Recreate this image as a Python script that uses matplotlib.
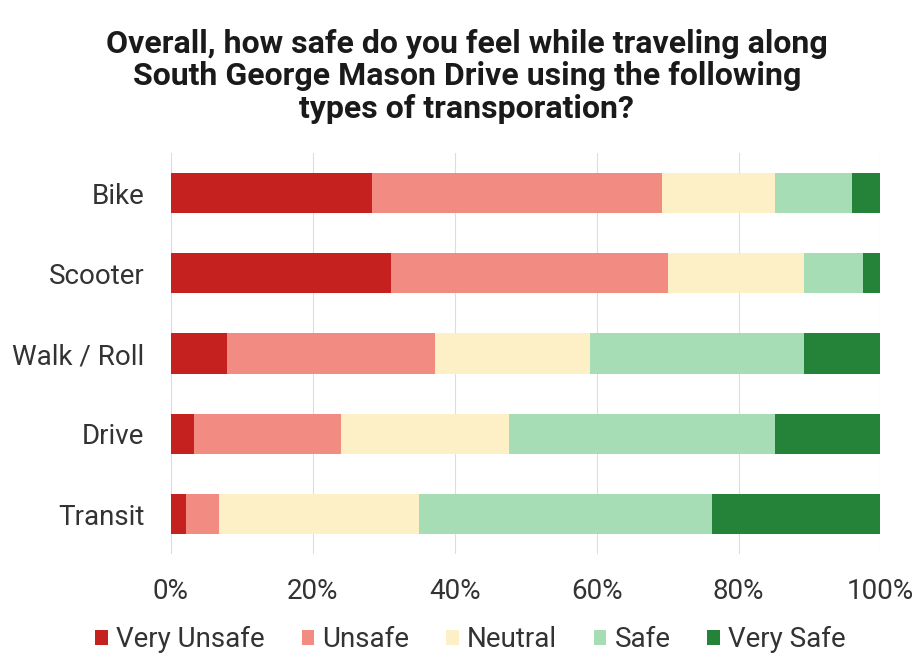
import matplotlib
matplotlib.use("Agg")
import matplotlib.pyplot as plt
import numpy as np

categories = ["Bike", "Scooter", "Walk / Roll", "Drive", "Transit"]
series_names = ["Very Unsafe", "Unsafe", "Neutral", "Safe", "Very Safe"]
very_unsafe = [28.4, 31.0, 7.9, 3.2, 2.1]
unsafe = [40.8, 39.1, 29.3, 20.8, 4.7]
neutral = [16.0, 19.2, 21.8, 23.7, 28.2]
safe = [10.8, 8.3, 30.2, 37.5, 41.3]
very_safe = [4.0, 2.4, 10.8, 14.8, 23.7]
xtick_values = [0, 20, 40, 60, 80, 100]
xtick_labels = ["0%", "20%", "40%", "60%", "80%", "100%"]
title = "Overall, how safe do you feel while traveling along\nSouth George Mason Drive using the following\ntypes of transporation?"

colors = ["#C5221F", "#F28B82", "#FDEFC6", "#A6DDB4", "#248339"]

plt.rcParams['font.family'] = ['Roboto', 'DejaVu Sans']

fig = plt.figure(figsize=(9.19, 6.59), dpi=100)
ax = fig.add_axes([0.186, 0.159, 0.772, 0.609])

data = [very_unsafe, unsafe, neutral, safe, very_safe]
y = np.arange(len(categories))
left = np.zeros(len(categories))
for name, vals, c in zip(series_names, data, colors):
    vals = np.array(vals)
    ax.barh(y, vals, left=left, height=0.5, color=c, label=name, zorder=3)
    left += vals

ax.set_xlim(0, 100)
ax.set_ylim(len(categories) - 0.5, -0.5)
ax.set_yticks(y)
ax.set_yticklabels(categories, fontsize=20, color="#333333")
ax.set_xticks(xtick_values)
ax.set_xticklabels(xtick_labels, fontsize=20, color="#333333")
ax.tick_params(axis='both', length=0)
ax.tick_params(axis='y', pad=19)
ax.tick_params(axis='x', pad=17)
for s in ax.spines.values():
    s.set_visible(False)
ax.grid(axis='x', color="#dddddd", linewidth=0.8, zorder=0)

fig.text(0.508, 0.884, title, ha='center', va='center', fontsize=23, fontweight='bold',
         color="#1a1a1a", linespacing=1.12)

leg = fig.legend(loc='center', bbox_to_anchor=(0.512, 0.029), ncol=5, frameon=False,
                 fontsize=20, handlelength=0.45, handleheight=0.45, handletextpad=0.3,
                 columnspacing=1.32, borderpad=0, borderaxespad=0)
for t in leg.get_texts():
    t.set_color("#333333")

fig.savefig("out.png", dpi=100, facecolor="white")
